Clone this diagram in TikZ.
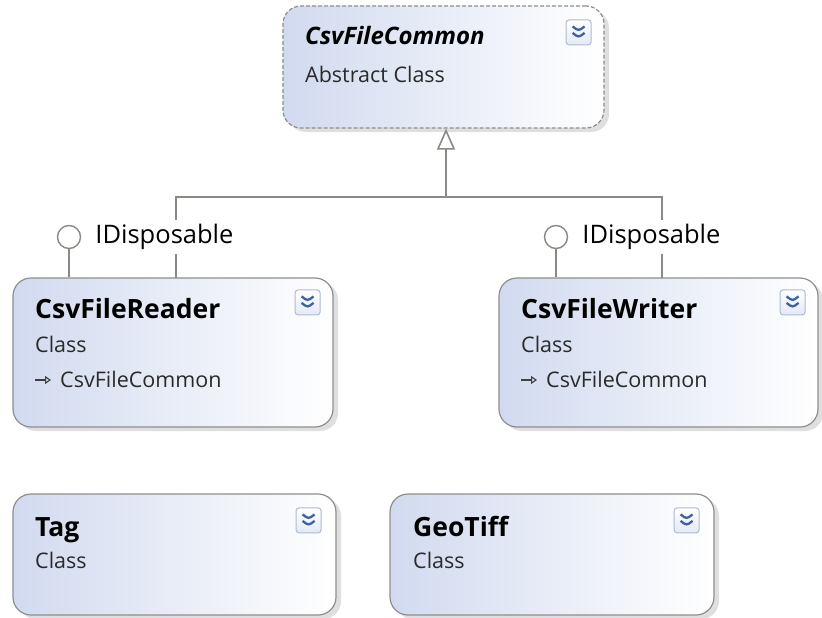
\documentclass[tikz,border=0pt]{standalone}
\usepackage{fontspec}
\setmainfont{Open Sans}
\usetikzlibrary{positioning}
\usetikzlibrary{arrows.meta}
\usetikzlibrary{shadows}

\definecolor{boxline}{HTML}{8E8E8E}
\definecolor{boxfill}{HTML}{D1DAEF}
\definecolor{wire}{HTML}{8A8A84}
\definecolor{chevron}{HTML}{3D63A2}
\definecolor{iconline}{HTML}{AEBBD2}
\definecolor{kindtext}{HTML}{2A2A2A}

\tikzset{
	cls/.style={
		draw=boxline,
		line width=1.2pt,
		rounded corners=18pt,
		left color=boxfill,
		right color=white,
		drop shadow={shadow xshift=5pt, shadow yshift=-4pt, fill=black!25},
	},
	abstractcls/.style={
		cls,
		dash pattern=on 4pt off 2pt,
	},
	clsname/.style={
		anchor=base west,
		inner sep=0pt,
		font=\bfseries\fontsize{26.5}{31}\selectfont,
	},
	clskind/.style={
		anchor=base west,
		inner sep=0pt,
		text=kindtext,
		font=\fontsize{21.5}{26}\selectfont,
	},
	clsbase/.style={
		anchor=base west,
		inner sep=0pt,
		text=kindtext,
		font=\fontsize{21.5}{26}\selectfont,
	},
	baseglyph/.style={
		draw=black!75,
		line width=1.1pt,
		-{Triangle[open,length=6pt,width=8pt]}
	},
	expander/.style={
		draw=iconline,
		line width=1pt,
		rounded corners=3pt,
		top color=white,
		bottom color=boxfill!60,
		minimum size=25pt,
		inner sep=0pt,
		path picture={
			\draw[chevron, line width=2.3pt]
				([xshift=-6pt,yshift=6pt]path picture bounding box.center) -- ++(6pt,-4.5pt) -- ++(6pt,4.5pt);
			\draw[chevron, line width=2.3pt]
				([xshift=-6pt,yshift=-0.5pt]path picture bounding box.center) -- ++(6pt,-4.5pt) -- ++(6pt,4.5pt);
		},
	},
	wireline/.style={
		draw=wire,
		line width=1.6pt,
	},
	inherit/.style={
		wireline,
		-{Triangle[open,length=21pt,width=18pt,fill=white]}
	},
	lolly/.style={
		draw=wire,
		line width=1.4pt,
		fill=white,
		circle,
		minimum size=23pt,
		inner sep=0pt,
	},
	ifacename/.style={
		fill=white,
		inner xsep=0pt,
		inner ysep=4pt,
		font=\fontsize{25.5}{30}\selectfont,
	},
}

\begin{document}
\begin{tikzpicture}[x=1pt, y=-1pt]

		\useasboundingbox (0,0) rectangle (822,618);

		\node[abstractcls, minimum width=321pt, minimum height=122pt] (common) at (443.5,67) {};
		\node[expander, below left=14pt and 13pt of common.north east] (commonexp) {};
		\node[clsname, font=\bfseries\itshape\fontsize{24}{28}\selectfont] (commonname) at (305,45) {CsvFileCommon};
		\node[clskind] (commonkind) at (305,82) {Abstract Class};

%*********

		\node[cls, minimum width=320pt, minimum height=149pt] (reader) at (173,352.5) {};
		\node[expander, below left=12pt and 13pt of reader.north east] (readerexp) {};
		\node[clsname] (readername) at (35,318) {CsvFileReader};
		\node[clskind] (readerkind) at (35,352) {Class};
		\node[clsbase] (readerbase) at (60,387) {CsvFileCommon};
		\draw[baseglyph] ([xshift=-25pt,yshift=7pt]readerbase.base west) -- ([xshift=-9pt,yshift=7pt]readerbase.base west);

		\node[cls, minimum width=319pt, minimum height=149pt] (writer) at (658.5,352.5) {};
		\node[expander, below left=12pt and 13pt of writer.north east] (writerexp) {};
		\node[clsname] (writername) at (521,318) {CsvFileWriter};
		\node[clskind] (writerkind) at (521,352) {Class};
		\node[clsbase] (writerbase) at (546,387) {CsvFileCommon};
		\draw[baseglyph] ([xshift=-25pt,yshift=7pt]writerbase.base west) -- ([xshift=-9pt,yshift=7pt]writerbase.base west);

%*********

		\coordinate (bus) at (446,197);
		\coordinate (readerjoin) at (176,278);
		\coordinate (writerjoin) at (662,278);

		\draw[inherit] (bus) -- (bus |- common.south);
		\draw[wireline] (readerjoin) |- (bus) -| (writerjoin);

		\node[lolly] (readerlolly) at (69,237) {};
		\draw[wireline] (readerlolly) -- (readerlolly |- reader.north);
		\node[ifacename, right=14pt of readerlolly] (readeriface) {IDisposable};

		\node[lolly] (writerlolly) at (556,237) {};
		\draw[wireline] (writerlolly) -- (writerlolly |- writer.north);
		\node[ifacename, right=14pt of writerlolly] (writeriface) {IDisposable};

%*********

		\node[cls, minimum width=323pt, minimum height=121pt] (tag) at (174.5,554.5) {};
		\node[expander, below left=14pt and 15pt of tag.north east] (tagexp) {};
		\node[clsname] (tagname) at (35,536) {Tag};
		\node[clskind] (tagkind) at (35,568) {Class};

		\node[cls, minimum width=324pt, minimum height=121pt] (geotiff) at (552,554.5) {};
		\node[expander, below left=14pt and 15pt of geotiff.north east] (geotiffexp) {};
		\node[clsname] (geotiffname) at (413,536) {GeoTiff};
		\node[clskind] (geotiffkind) at (413,568) {Class};

	\end{tikzpicture}
\end{document}
